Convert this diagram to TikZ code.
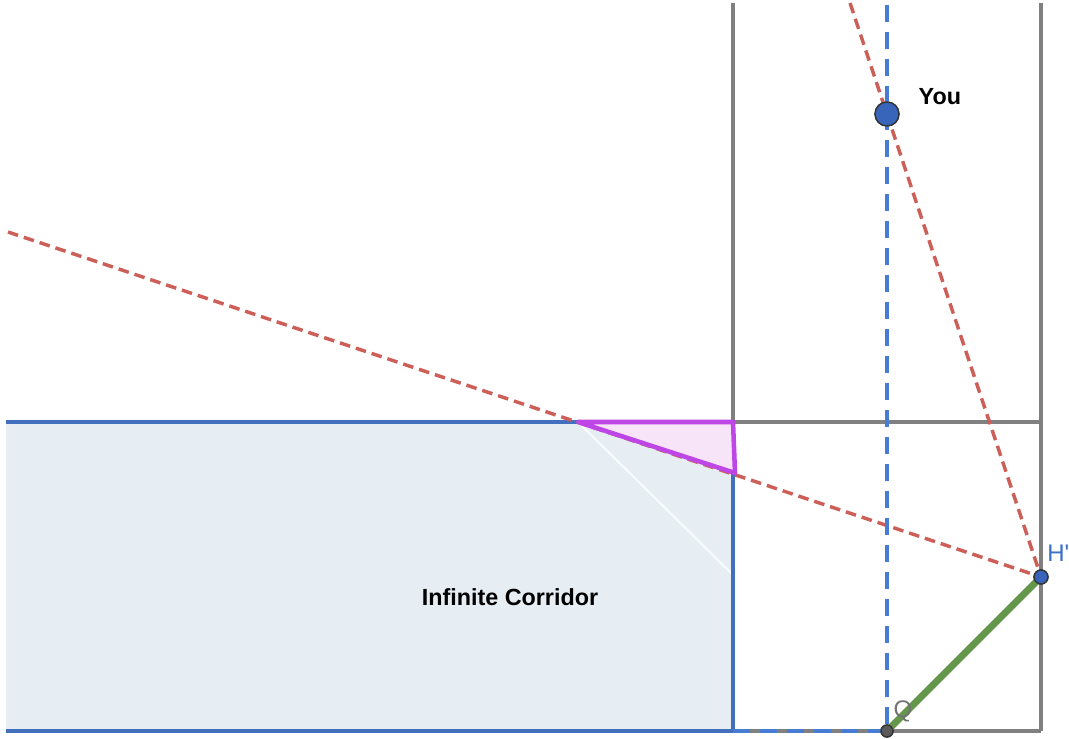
\documentclass[tikz,border=0pt]{standalone}
\usepackage{fontspec}
\setmainfont{Liberation Sans}
\newfontfamily\plainsans[Ligatures=TeXOff]{Liberation Sans}
\definecolor{gline}{RGB}{128,128,128}
\definecolor{cblue}{RGB}{67,112,190}
\definecolor{cfill}{RGB}{230,238,243}
\definecolor{rdash}{RGB}{204,96,88}
\definecolor{bdash}{RGB}{70,125,210}
\definecolor{ptblue}{RGB}{56,100,185}
\definecolor{cgreen}{RGB}{100,150,75}
\definecolor{cmag}{RGB}{190,70,230}
\definecolor{cpink}{RGB}{248,228,248}
\definecolor{qgray}{RGB}{90,90,90}
\definecolor{hlabel}{RGB}{60,110,200}
\definecolor{qlabel}{RGB}{115,115,115}
\tikzset{
  grayline/.style={draw=gline,line width=2.4pt},
  corridorline/.style={draw=cblue,line width=2.4pt},
  reddash/.style={draw=rdash,line width=2.6pt,dash pattern=on 8pt off 4.5pt},
  bluedash/.style={draw=bdash,line width=2.4pt,dash pattern=on 12.75pt off 7.5pt},
  pt/.style={circle,draw=black!80,line width=1pt,inner sep=0pt},
  greenseg/.style={draw=cgreen,line width=5.25pt},
  triline/.style={draw=cmag,line width=3.4pt,line join=round},
}
\begin{document}
\begin{tikzpicture}[x=0.75pt,y=-0.75pt]
\useasboundingbox[fill=white] (0,0) rectangle (1069,738);
% coordinates
\coordinate (cTL) at (6,422);
\coordinate (cTR) at (733,422);
\coordinate (cBR) at (733,731);
\coordinate (cBL) at (6,731);
\coordinate (gTL) at (733,3);
\coordinate (gTR) at (1041,3);
\coordinate (gMR) at (1041,422);
\coordinate (gBR) at (1041,731);
\coordinate (triA) at (578,422);
\coordinate (triC) at (735,473);
\coordinate (diagEnd) at (733,575);
\coordinate (r1start) at (8,232);
\coordinate (r2start) at (850,3);
\coordinate (vtop) at (887,5);
% corridor
\fill[cfill] (cTL) rectangle (cBR);
\draw[white,line width=1.5pt,opacity=0.8] (triA) -- (diagEnd);
% gray grid
\draw[grayline] (gTL) -- (cTR);
\draw[grayline] (gTR) -- (gBR);
\draw[grayline] (cTR) -- (gMR);
\draw[grayline] (cBR) -- (gBR);
% corridor border
\draw[corridorline] (cTL) -- (cTR) -- (cBR) -- (cBL);
% points (named for connectors)
\node[pt,fill=ptblue,minimum size=18pt] (you) at (887,114) {};
\node[pt,fill=ptblue,minimum size=10.5pt] (hp) at (1041,577) {};
\node[pt,fill=qgray,minimum size=9pt] (q) at (887,731) {};
% dashed lines
\draw[reddash] (r1start) -- (hp.center);
\draw[reddash] (r2start) -- (hp.center);
\draw[bluedash] (vtop) -- (q.center);
\draw[bluedash] (cBR) -- (q.center);
% pink triangle
\filldraw[fill=cpink,triline] (triA) -- (cTR) -- (triC) -- cycle;
% green segment
\draw[greenseg] (q.center) -- (hp.center);
% redraw points on top
\node[pt,fill=ptblue,minimum size=18pt] at (you.center) {};
\node[pt,fill=ptblue,minimum size=10.5pt] at (hp.center) {};
\node[pt,fill=qgray,minimum size=9pt] at (q.center) {};
% labels
\node[font=\bfseries\fontsize{17.5}{20}\selectfont,anchor=west] (youlbl) at (914,97) {You};
\node[font=\bfseries\fontsize{17.5}{20}\selectfont] (corrlbl) at (510,597) {Infinite Corridor};
\node[font=\plainsans\fontsize{18}{21}\selectfont,text=hlabel,anchor=west,inner sep=0pt] (hlbl) at (1047,553) {H'};
\node[font=\fontsize{18}{21}\selectfont,text=qlabel,inner sep=0pt] (qlbl) at (903,711) {Q};
\end{tikzpicture}
\end{document}
